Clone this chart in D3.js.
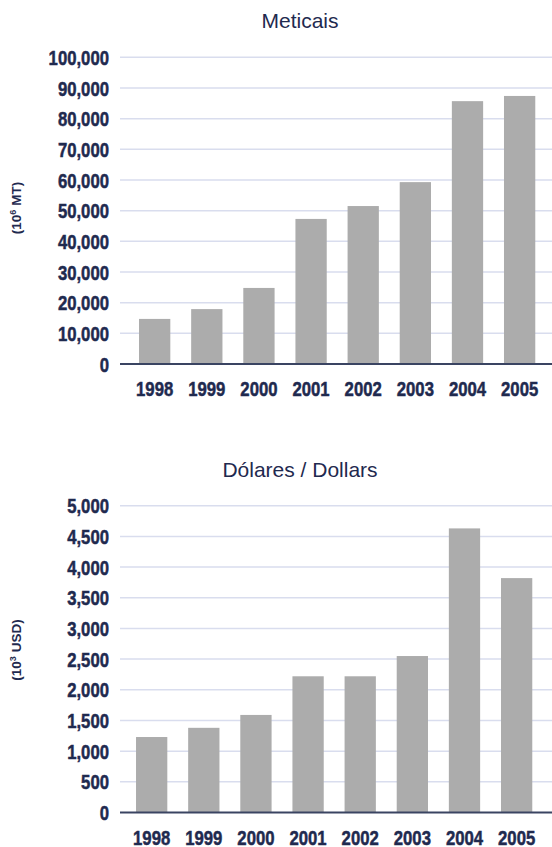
<!DOCTYPE html>
<html>
<head>
<meta charset="utf-8">
<script src="https://cdn.jsdelivr.net/npm/d3@7"></script>
<style>
  body { margin: 0; background: #fff; }
  svg { display: block; }
</style>
</head>
<body>
<div id="chart"></div>
<script>
const years = ['1998', '1999', '2000', '2001', '2002', '2003', '2004', '2005']
const meticais = [14700, 17900, 24800, 47300, 51500, 59300, 85700, 87400]
const dollars = [1230, 1380, 1590, 2220, 2220, 2550, 4630, 3820]
const meticaisTicks = d3.range(0, 100001, 10000)
const dollarTicks = d3.range(0, 5001, 500)

const W = 552
const H = 847
const navy = '#1f2a4f'
const sans = '"Liberation Sans", Arial, sans-serif'

const svg = d3
  .select('#chart')
  .append('svg')
  .attr('width', W)
  .attr('height', H)

// squeeze bold text to look like a condensed face
function narrowWidth(s) {
  let w = 0
  for (const c of s) w += c === ',' ? 4.6 : 9.3
  return w
}

function drawPanel(opts) {
  const g = svg.append('g')

  const x = d3
    .scaleBand()
    .domain(years)
    .range([opts.x0, opts.x0 + 417.1])
    .paddingInner(0.4)
    .paddingOuter(0.2)

  const y = d3
    .scaleLinear()
    .domain([0, d3.max(opts.ticks)])
    .range([opts.base, opts.top])

  // gridlines
  g.selectAll('.grid')
    .data(opts.ticks.filter(d => d > 0))
    .enter()
    .append('line')
    .attr('x1', 120)
    .attr('x2', W)
    .attr('y1', d => y(d))
    .attr('y2', d => y(d))
    .attr('stroke', '#d9ddee')
    .attr('stroke-width', 1.5)

  // tick labels
  g.selectAll('.ytick')
    .data(opts.ticks)
    .enter()
    .append('text')
    .attr('x', 109)
    .attr('y', d => y(d))
    .attr('dy', '0.36em')
    .attr('text-anchor', 'end')
    .attr('font-family', sans)
    .attr('font-weight', 'bold')
    .attr('font-size', 21)
    .attr('fill', navy)
    .attr('stroke', navy)
    .attr('stroke-width', 0.5)
    .attr('textLength', d => narrowWidth(d3.format(',')(d)))
    .attr('lengthAdjust', 'spacingAndGlyphs')
    .text(d => d3.format(',')(d))

  // bars
  g.selectAll('.bar')
    .data(opts.values)
    .enter()
    .append('rect')
    .attr('x', (d, i) => x(years[i]))
    .attr('width', x.bandwidth())
    .attr('y', d => y(d))
    .attr('height', d => y(0) - y(d))
    .attr('fill', '#acacac')

  // axis line
  g.append('line')
    .attr('x1', 120)
    .attr('x2', W)
    .attr('y1', y(0))
    .attr('y2', y(0))
    .attr('stroke', '#3a4462')
    .attr('stroke-width', 2)

  // year labels
  g.selectAll('.xtick')
    .data(years)
    .enter()
    .append('text')
    .attr('x', d => x(d) + x.bandwidth() / 2)
    .attr('y', y(0) + 32)
    .attr('text-anchor', 'middle')
    .attr('font-family', sans)
    .attr('font-weight', 'bold')
    .attr('font-size', 21)
    .attr('fill', navy)
    .attr('stroke', navy)
    .attr('stroke-width', 0.5)
    .attr('textLength', d => narrowWidth(d))
    .attr('lengthAdjust', 'spacingAndGlyphs')
    .text(d => d)

  // title
  g.append('text')
    .attr('x', 300)
    .attr('y', opts.titleY)
    .attr('text-anchor', 'middle')
    .attr('font-family', sans)
    .attr('font-size', 21)
    .attr('fill', navy)
    .text(opts.title)

  // unit label
  const unit = g
    .append('text')
    .attr('transform', `translate(21, ${opts.unitY}) rotate(-90)`)
    .attr('text-anchor', 'middle')
    .attr('font-family', sans)
    .attr('font-weight', 'bold')
    .attr('font-size', 13.5)
    .attr('fill', navy)
  unit.append('tspan').text('(10')
  unit.append('tspan').attr('dy', -5).attr('font-size', 9).text(opts.exp)
  unit.append('tspan').attr('dy', 5).text(' ' + opts.unit + ')')
}

drawPanel({
  title: 'Meticais',
  titleY: 28,
  values: meticais,
  ticks: meticaisTicks,
  base: 364,
  top: 57.3,
  x0: 128.6,
  exp: '6',
  unit: 'MT',
  unitY: 208
})

drawPanel({
  title: 'Dólares / Dollars',
  titleY: 477,
  values: dollars,
  ticks: dollarTicks,
  base: 812.5,
  top: 505.7,
  x0: 125.6,
  exp: '3',
  unit: 'USD',
  unitY: 650
})
</script>
</body>
</html>
